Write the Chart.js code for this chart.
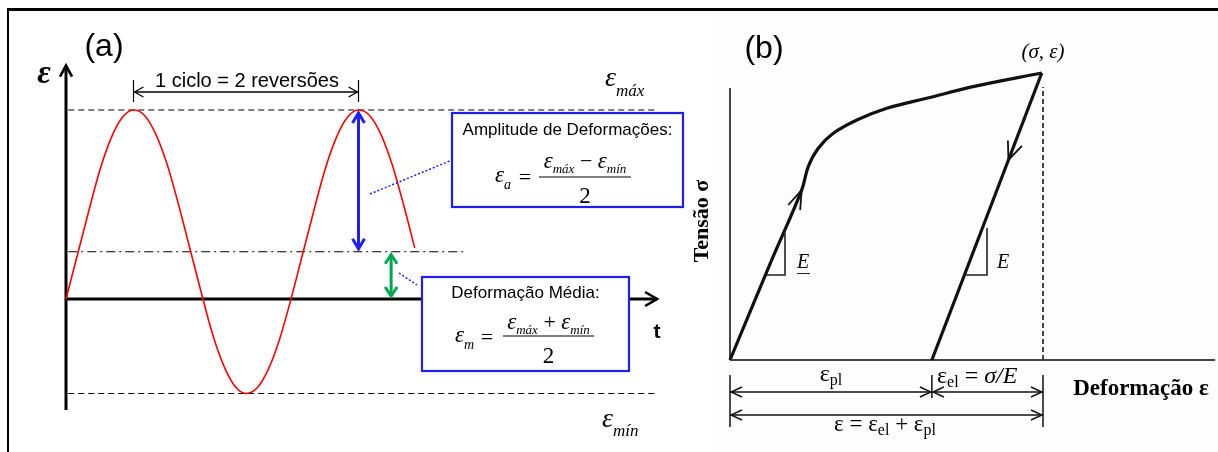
<!DOCTYPE html>
<html><head><meta charset="utf-8">
<script src="https://cdn.jsdelivr.net/npm/chart.js@4/dist/chart.umd.min.js"></script>
<style>
html,body{margin:0;padding:0;background:#fff;}
#wrap{position:relative;width:1218px;height:452px;overflow:hidden;background:#fff;}
#bgb{position:absolute;left:712px;top:14px;width:506px;height:438px;background:#fdfdfd;}
#frame{position:absolute;left:7px;top:8px;width:1300px;height:500px;border-left:2.5px solid #000;border-top:3px solid #000;}
#ca{position:absolute;left:0;top:0;}
#cb{position:absolute;left:688px;top:0;}
</style></head><body>
<div id="wrap"><div id="bgb"></div><canvas id="ca" width="700" height="452"></canvas><canvas id="cb" width="530" height="452"></canvas><div id="frame"></div></div>
<script>
// ---------- Panel (a): strain vs time ----------
const cycleTime   = [0,0.05,0.10,0.15,0.20,0.25,0.30,0.35,0.40,0.45,0.50,0.55,0.60,0.65,0.70,0.75,0.80,0.85,0.90,0.95,1.00,1.05,1.10,1.15,1.20,1.25,1.30,1.35,1.40,1.45,1.50,1.55];
const cycleStrain = [0,0.23,0.46,0.68,0.85,0.96,1.00,0.97,0.87,0.71,0.50,0.27,0.04,-0.18,-0.35,-0.46,-0.50,-0.47,-0.37,-0.21,0.00,0.23,0.46,0.68,0.85,0.96,1.00,0.97,0.87,0.71,0.50,0.27];
const strainMax = 1.0;
const strainMin = -0.5;
const strainMean = 0.25;
const timeAxisEnd = 2.627;
const strainAxisTop = 1.235;
const strainAxisBottom = -0.587;
const meanLineEnd = 1.773;
const meanArrowTime = 1.445;

// ---------- Panel (b): stress vs strain ----------
const loadStrain = [0,0.133,0.229,0.250,0.282,0.330,0.405,0.501,0.628,0.788,0.996];
const loadStress = [0,0.348,0.592,0.674,0.738,0.790,0.836,0.877,0.912,0.955,1.000];
const plasticStrain = 0.645;
const totalStrain = 1.0;
const strainAxisEndB = 1.55;
const stressAxisTopB = 0.948;

const SERIF = 'Liberation Serif', SANS = 'Liberation Sans';
const BLUE = '#1f1ff5', GREEN = '#00a650';

function line(ctx, pts, w, color, dash){
  ctx.save(); ctx.beginPath(); ctx.lineWidth=w; ctx.strokeStyle=color; ctx.setLineDash(dash||[]);
  ctx.lineCap='butt';
  pts.forEach((p,i)=> i?ctx.lineTo(p[0],p[1]):ctx.moveTo(p[0],p[1])); ctx.stroke(); ctx.restore();
}
function chevron(ctx, tip, dir, len, half, w, color){
  const m=Math.hypot(dir[0],dir[1]); const ux=dir[0]/m, uy=dir[1]/m; const nx=-uy, ny=ux;
  ctx.save(); ctx.strokeStyle=color; ctx.lineWidth=w; ctx.lineJoin='miter'; ctx.lineCap='butt'; ctx.setLineDash([]);
  ctx.beginPath();
  ctx.moveTo(tip[0]-len*ux+half*nx, tip[1]-len*uy+half*ny);
  ctx.lineTo(tip[0],tip[1]);
  ctx.lineTo(tip[0]-len*ux-half*nx, tip[1]-len*uy-half*ny);
  ctx.stroke(); ctx.restore();
}
function rich(ctx, parts, x, y, align, color){
  ctx.save(); ctx.fillStyle=color||'#000'; ctx.textBaseline='alphabetic'; ctx.textAlign='left';
  let w=0; const ws=parts.map(p=>{ctx.font=p[1]; const m=ctx.measureText(p[0]).width; w+=m; return m;});
  let cx = align==='center'? x-w/2 : align==='right'? x-w : x;
  parts.forEach((p,i)=>{ctx.font=p[1]; ctx.fillText(p[0], cx, y+(p[2]||0)); cx+=ws[i];});
  ctx.restore();
}
function text(ctx, s, x, y, font, align, color){ rich(ctx, [[s,font]], x, y, align||'center', color); }

const annotA = { id:'annotA', afterDatasetsDraw(chart){
  const ctx=chart.ctx, X=v=>chart.scales.x.getPixelForValue(v), Y=v=>chart.scales.y.getPixelForValue(v);
  chevron(ctx, [X(0), Y(strainAxisTop)], [0,-1], 11, 6, 2.6, '#000');
  chevron(ctx, [X(timeAxisEnd), Y(0)], [1,0], 12, 7, 2.6, '#000');
  const peaks = cycleStrain.map((v,i)=>v===strainMax?i:-1).filter(i=>i>=0);
  const xp1 = X(cycleTime[peaks[0]]), xp2 = X(cycleTime[peaks[1]]);
  line(ctx, [[xp1,80],[xp1,102]], 1.2, '#000');
  line(ctx, [[xp2,80],[xp2,102]], 1.2, '#000');
  line(ctx, [[xp1+1,92],[xp2-1,92]], 1.3, '#000');
  chevron(ctx, [xp1+1,92], [-1,0], 9, 5, 1.3, '#000');
  chevron(ctx, [xp2-1,92], [1,0], 9, 5, 1.3, '#000');
  text(ctx, '1 ciclo = 2 reversões', (xp1+xp2)/2+1, 87, '20px '+SANS);
  const yMax=Y(strainMax), yMean=Y(strainMean), y0=Y(0);
  line(ctx, [[xp2, yMax+3],[xp2, yMean-3]], 3, BLUE);
  chevron(ctx, [xp2, yMax+3], [0,-1], 10, 6, 3, BLUE);
  chevron(ctx, [xp2, yMean-3], [0,1], 10, 6, 3, BLUE);
  const xg = X(meanArrowTime);
  line(ctx, [[xg, yMean+3],[xg, y0-3]], 3, GREEN);
  chevron(ctx, [xg, yMean+3], [0,-1], 9, 6, 3, GREEN);
  chevron(ctx, [xg, y0-3], [0,1], 9, 6, 3, GREEN);
  line(ctx, [[370,194],[452,160]], 1.5, BLUE, [2,2]);
  line(ctx, [[399,273],[417,285]], 1.5, BLUE, [2,2]);
  ctx.save(); ctx.fillStyle='#fff'; ctx.fillRect(452,113,231,94); ctx.fillRect(422,277,207,94);
  ctx.strokeStyle=BLUE; ctx.lineWidth=2.2; ctx.strokeRect(452,113,231,94); ctx.strokeRect(422,277,207,94); ctx.restore();
  text(ctx, 'Amplitude de Deformações:', 567.5, 135, '17px '+SANS);
  rich(ctx, [['ε','italic 23px '+SERIF],['a','italic 14px '+SERIF,7]], 495, 182, 'left');
  text(ctx, '=', 525, 184, '22px '+SERIF);
  line(ctx, [[539,177],[631,177]], 1.1, '#000');
  rich(ctx, [['ε','italic 23px '+SERIF],['máx','italic 13px '+SERIF,5],[' − ','22px '+SERIF],['ε','italic 23px '+SERIF],['mín','italic 13px '+SERIF,5]], 585, 168, 'center');
  text(ctx, '2', 585, 203, '23px '+SERIF);
  text(ctx, 'Deformação Média:', 525.5, 298, '17px '+SANS);
  rich(ctx, [['ε','italic 23px '+SERIF],['m','italic 14px '+SERIF,7]], 455, 342, 'left');
  text(ctx, '=', 487, 344, '22px '+SERIF);
  line(ctx, [[503,336],[594,336]], 1.1, '#000');
  rich(ctx, [['ε','italic 23px '+SERIF],['máx','italic 13px '+SERIF,5],[' + ','22px '+SERIF],['ε','italic 23px '+SERIF],['mín','italic 13px '+SERIF,5]], 548.5, 329, 'center');
  text(ctx, '2', 548.5, 363, '23px '+SERIF);
  text(ctx, '(a)', 104, 56, '32px '+SANS);
  text(ctx, 'ε', 44, 83, 'bold italic 33px '+SERIF);
  rich(ctx, [['ε','italic 28px '+SERIF],['máx','italic 17px '+SERIF,10]], 605, 86, 'left');
  rich(ctx, [['ε','italic 28px '+SERIF],['mín','italic 17px '+SERIF,9]], 602, 427, 'left');
  text(ctx, 't', 657, 338, 'bold 21px '+SANS);
}};

const segA = (x1,y1,x2,y2)=>[{x:x1,y:y1},{x:x2,y:y2}];
new Chart(document.getElementById('ca'), {
  type:'scatter',
  data:{datasets:[
    {label:'ε(t)', data: cycleTime.map((t,i)=>({x:t,y:cycleStrain[i]})), showLine:true, borderColor:'#ff0000', borderWidth:1.6, pointRadius:0, cubicInterpolationMode:'monotone', order:0},
    {label:'εmáx', data:segA(0.01,strainMax,timeAxisEnd,strainMax), showLine:true, borderColor:'#000', borderWidth:1.2, borderDash:[6,4], pointRadius:0, order:3},
    {label:'εmín', data:segA(0.01,strainMin,timeAxisEnd,strainMin), showLine:true, borderColor:'#000', borderWidth:1.2, borderDash:[6,4], pointRadius:0, order:3},
    {label:'εm', data:segA(0.01,strainMean,meanLineEnd,strainMean), showLine:true, borderColor:'#000', borderWidth:1.2, borderDash:[9,4,2,4], pointRadius:0, order:3},
    {label:'t axis', data:segA(0,0,timeAxisEnd,0), showLine:true, borderColor:'#000', borderWidth:3, pointRadius:0, order:1},
    {label:'ε axis', data:segA(0,strainAxisBottom,0,strainAxisTop), showLine:true, borderColor:'#000', borderWidth:3, pointRadius:0, order:1}
  ]},
  options:{responsive:false, animation:false, events:[], layout:{padding:0},
    plugins:{legend:{display:false}, tooltip:{enabled:false}},
    scales:{x:{type:'linear', display:false, min:-66/225, max:634/225},
            y:{type:'linear', display:false, min:-153/189, max:299/189}}},
  plugins:[annotA]
});

const annotB = { id:'annotB', afterDatasetsDraw(chart){
  const ctx=chart.ctx, X=v=>chart.scales.x.getPixelForValue(v), Y=v=>chart.scales.y.getPixelForValue(v);
  const ox=688;
  line(ctx, [[767-ox,275],[785-ox,275],[785-ox,233]], 1.6, '#222');
  line(ctx, [[965-ox,275],[987-ox,275],[987-ox,228]], 1.6, '#222');
  const n = loadStrain.length-1;
  const a0=[X(loadStrain[1]),Y(loadStress[1])], a1=[X(loadStrain[2]),Y(loadStress[2])];
  chevron(ctx, a1, [a1[0]-a0[0], a1[1]-a0[1]], 19, 6.5, 1.8, '#111');
  const pk=[X(loadStrain[n]),Y(loadStress[n])], pl=[X(plasticStrain),Y(0)];
  const f=0.697; const tipU=[X(plasticStrain+(loadStrain[n]-plasticStrain)*f), Y(loadStress[n]*f)];
  chevron(ctx, tipU, [pl[0]-pk[0], pl[1]-pk[1]], 18, 7.5, 1.8, '#111');
  const xa=X(0), xp=X(plasticStrain), xt=X(totalStrain);
  line(ctx, [[xa,375],[xa,427]], 1.5, '#111');
  line(ctx, [[xp,375],[xp,398]], 1.5, '#111');
  line(ctx, [[xt,375],[xt,427]], 1.5, '#111');
  line(ctx, [[xa,392],[xt,392]], 1.5, '#111');
  line(ctx, [[xa,415],[xt,415]], 1.5, '#111');
  chevron(ctx, [xa+1,392], [-1,0], 11, 5, 1.4, '#111');
  chevron(ctx, [xp-1,392], [1,0], 11, 5, 1.4, '#111');
  chevron(ctx, [xp+1,392], [-1,0], 11, 5, 1.4, '#111');
  chevron(ctx, [xt-1,392], [1,0], 11, 5, 1.4, '#111');
  chevron(ctx, [xa+1,415], [-1,0], 11, 5, 1.4, '#111');
  chevron(ctx, [xt-1,415], [1,0], 11, 5, 1.4, '#111');
  text(ctx, '(b)', 764-ox, 58, '32px '+SANS);
  text(ctx, '(σ, ε)', 1043-ox, 58, 'italic 21px '+SERIF);
  ctx.save(); ctx.translate(702-ox, 221); ctx.rotate(-Math.PI/2);
  ctx.font='bold 22px '+SERIF; ctx.fillStyle='#000'; ctx.textAlign='center'; ctx.textBaseline='middle';
  ctx.fillText('Tensão σ', 0, 0); ctx.restore();
  text(ctx, 'Deformação ε', 1141-ox, 395, 'bold 23px '+SERIF);
  text(ctx, 'E', 803-ox, 268, 'italic 20px '+SERIF);
  line(ctx, [[797-ox,273.5],[810-ox,273.5]], 1, '#222');
  text(ctx, 'E', 1003-ox, 268, 'italic 20px '+SERIF);
  rich(ctx, [['ε','24px '+SERIF],['pl','16px '+SERIF,4]], (xa+xp)/2, 381, 'center');
  rich(ctx, [['ε','24px '+SERIF],['el','16px '+SERIF,4],[' = ','24px '+SERIF],['σ/E','italic 24px '+SERIF]], 937-ox, 383, 'left');
  rich(ctx, [['ε = ε','23px '+SERIF],['el','16px '+SERIF,4],[' + ε','23px '+SERIF],['pl','16px '+SERIF,4]], 885-ox, 431, 'center');
}};

const segB = (x1,y1,x2,y2)=>[{x:x1,y:y1},{x:x2,y:y2}];
new Chart(document.getElementById('cb'), {
  type:'scatter',
  data:{datasets:[
    {label:'loading', data: loadStrain.map((e,i)=>({x:e,y:loadStress[i]})), showLine:true, borderColor:'#111', borderWidth:3.2, pointRadius:0, tension:0.4, order:0},
    {label:'unloading', data: segB(loadStrain[loadStrain.length-1], loadStress[loadStress.length-1], plasticStrain, 0), showLine:true, borderColor:'#111', borderWidth:3.2, pointRadius:0, order:0},
    {label:'ε total', data: segB(totalStrain, 0, totalStrain, 0.951), showLine:true, borderColor:'#333', borderWidth:1.8, borderDash:[5,3], pointRadius:0, order:2},
    {label:'σ axis', data: segB(0,0,0,stressAxisTopB), showLine:true, borderColor:'#444', borderWidth:2, pointRadius:0, order:2},
    {label:'ε axis', data: segB(0,0,strainAxisEndB,0), showLine:true, borderColor:'#444', borderWidth:2, pointRadius:0, order:2}
  ]},
  options:{responsive:false, animation:false, events:[], layout:{padding:0},
    plugins:{legend:{display:false}, tooltip:{enabled:false}},
    scales:{x:{type:'linear', display:false, min:-42/313, max:488/313},
            y:{type:'linear', display:false, min:-92/287, max:360/287}}},
  plugins:[annotB]
});
</script>
</body></html>
